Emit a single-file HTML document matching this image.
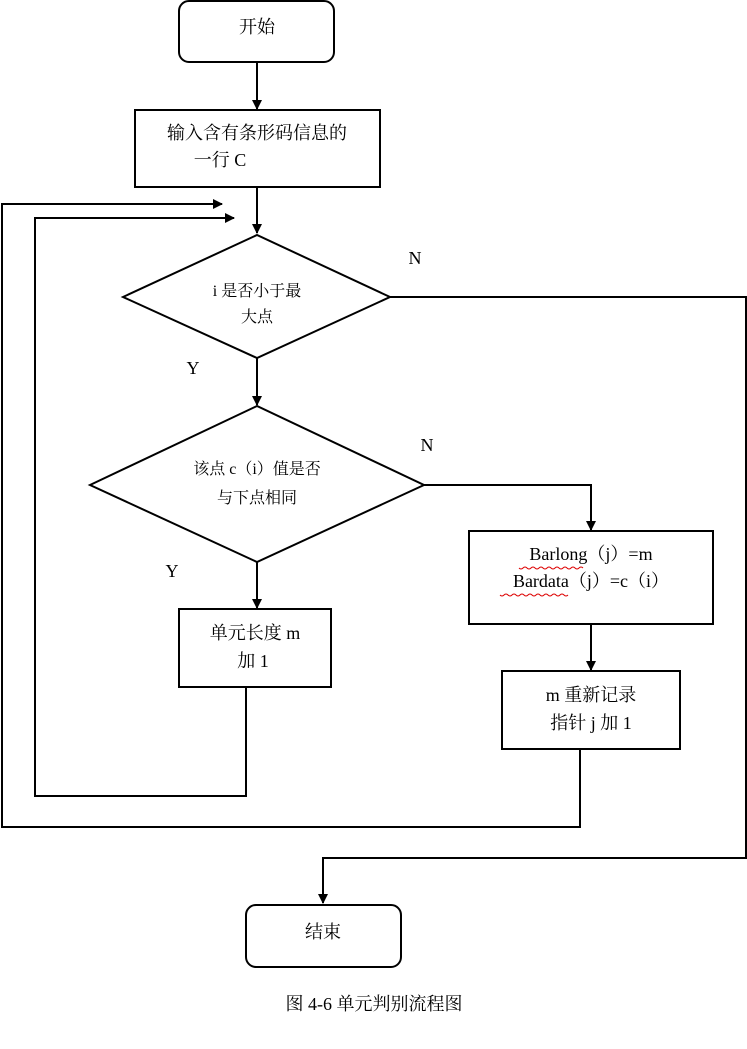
<!DOCTYPE html>
<html><head><meta charset="utf-8"><style>
html,body{margin:0;padding:0;background:#fff;}
svg text{font-family:"Liberation Serif","Noto Serif CJK SC","Noto Sans CJK SC",serif;font-size:18px;fill:#000;}
</style></head><body>
<svg width="747" height="1044" viewBox="0 0 747 1044" xmlns="http://www.w3.org/2000/svg">
<defs><marker id="a" markerWidth="10" markerHeight="10" refX="9" refY="5" orient="auto" markerUnits="userSpaceOnUse"><path d="M0,0 L10,5 L0,10 z" fill="#000"/></marker></defs>
<g fill="none" stroke="#000" stroke-width="2">
<rect x="179" y="1" width="155" height="61" rx="10"/>
<line x1="257" y1="62" x2="257" y2="109" marker-end="url(#a)"/>
<rect x="135" y="110" width="245" height="77"/>
<line x1="257" y1="187" x2="257" y2="233" marker-end="url(#a)"/>
<polygon points="123,297 257,235 390,297 257,358"/>
<polyline points="390,297 746,297 746,858 323,858 323,903" marker-end="url(#a)"/>
<line x1="257" y1="358" x2="257" y2="405" marker-end="url(#a)"/>
<polygon points="90,485 257,406 424,485 257,562"/>
<polyline points="424,485 591,485 591,530" marker-end="url(#a)"/>
<rect x="469" y="531" width="244" height="93"/>
<line x1="591" y1="624" x2="591" y2="670" marker-end="url(#a)"/>
<rect x="502" y="671" width="178" height="78"/>
<polyline points="580,749 580,827 2,827 2,204 222,204" marker-end="url(#a)"/>
<line x1="257" y1="562" x2="257" y2="608" marker-end="url(#a)"/>
<rect x="179" y="609" width="152" height="78"/>
<polyline points="246,687 246,796 35,796 35,218 234,218" marker-end="url(#a)"/>
<rect x="246" y="905" width="155" height="62" rx="10"/>
</g>
<g text-anchor="middle">
<text x="257" y="33">开始</text>
<text x="257" y="139">输入含有条形码信息的</text>
<text x="220" y="166">一行 C</text>
<text x="257" y="296" style="font-size:16px">i 是否小于最</text>
<text x="257" y="322" style="font-size:16px">大点</text>
<text x="257" y="474" style="font-size:16px">该点 c（i）值是否</text>
<text x="257" y="503" style="font-size:16px">与下点相同</text>
<text x="591" y="560">Barlong（j）=m</text>
<text x="591" y="587">Bardata（j）=c（i）</text>
<text x="591" y="701">m 重新记录</text>
<text x="591" y="729">指针 j 加 1</text>
<text x="255" y="639">单元长度 m</text>
<text x="253" y="667">加 1</text>
<text x="323" y="938">结束</text>
<text x="374" y="1010">图 4-6  单元判别流程图</text>
<text x="415" y="264">N</text>
<text x="193" y="374">Y</text>
<text x="427" y="451">N</text>
<text x="172" y="577">Y</text>
</g>
<g fill="none" stroke="#d00" stroke-width="1">
<path d="M519,568 q2,2 4,0 t4,0 t4,0 t4,0 t4,0 t4,0 t4,0 t4,0 t4,0 t4,0 t4,0 t4,0 t4,0 t4,0 t4,0 t4,0"/>
<path d="M500,595 q2,2 4,0 t4,0 t4,0 t4,0 t4,0 t4,0 t4,0 t4,0 t4,0 t4,0 t4,0 t4,0 t4,0 t4,0 t4,0 t4,0 t4,0"/>
</g>
</svg>
</body></html>
